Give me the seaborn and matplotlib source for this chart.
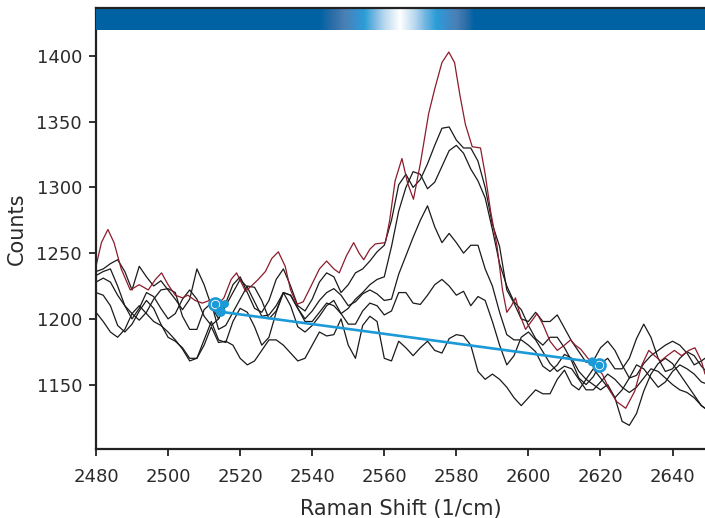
import numpy as np
import pandas as pd
import matplotlib
matplotlib.use("Agg")
import matplotlib.pyplot as plt
from matplotlib.colors import to_rgb
import seaborn as sns

# ---------------- data ----------------
red_x = [2480, 2481.5, 2483.3, 2485, 2487, 2489.5, 2492, 2494.5, 2496.5, 2498.2,
         2500, 2502, 2504, 2505.5, 2507.5, 2509.5, 2511.5, 2513.5, 2515.5, 2517.5,
         2519, 2521.5, 2523.5, 2525, 2527, 2528.8, 2530.6, 2532.5, 2534, 2535.7,
         2537.5, 2539.5, 2542, 2544, 2546, 2547.5, 2549.5, 2551.5, 2553, 2554.3,
         2556, 2557.5, 2560.3, 2561.5, 2563, 2564.9, 2566.5, 2568.1, 2570, 2572.3,
         2574, 2576, 2577.9, 2579.5, 2581, 2582.5, 2584.4, 2586.7, 2588, 2589.5,
         2591.3, 2592.8, 2594, 2595.3, 2596.4, 2597.8, 2599.2, 2600.8, 2602.4, 2604,
         2606, 2608, 2610, 2611.7, 2613, 2614.5, 2616.5, 2618.5, 2620.5, 2622.5,
         2624.5, 2627, 2629.5, 2631.5, 2633.4, 2635, 2636.7, 2638.5, 2640.5, 2642.5,
         2644.5, 2646.2, 2648, 2649]
red_y = [1240, 1258, 1268, 1258, 1238, 1222, 1226, 1222, 1230, 1235,
         1226, 1218, 1216, 1218, 1214, 1212, 1214, 1210, 1216, 1230,
         1235, 1221, 1226, 1230, 1236, 1246, 1251, 1240, 1222, 1211,
         1213, 1224, 1238, 1244, 1238, 1235, 1248, 1258, 1250, 1245,
         1253, 1257, 1258, 1275, 1305, 1322, 1303, 1291, 1318, 1356,
         1375, 1395, 1403, 1395, 1370, 1348, 1331, 1330, 1310, 1282,
         1255, 1222, 1205, 1210, 1216, 1202, 1192, 1198, 1204, 1196,
         1183, 1176, 1180, 1184, 1180, 1177, 1170, 1164, 1158, 1146,
         1137, 1132, 1145, 1165, 1176, 1172, 1168, 1172, 1176, 1172,
         1176, 1178, 1168, 1158]

# Raman shift sampling of the black spectra (every 2 1/cm)
shift = np.arange(2480, 2651, 2)

spec1 = [1236, 1238, 1242, 1245, 1236, 1222, 1240, 1232, 1225, 1229,
         1222, 1215, 1207, 1215, 1238, 1226, 1210, 1200, 1212, 1226,
         1232, 1220, 1208, 1205, 1214, 1230, 1238, 1225, 1210, 1206,
         1215, 1228, 1235, 1232, 1220, 1226, 1235, 1238, 1244, 1251,
         1256, 1275, 1302, 1310, 1300, 1306, 1318, 1332, 1345, 1346,
         1336, 1330, 1330, 1320, 1300, 1272, 1255, 1222, 1212, 1200,
         1198, 1205, 1198, 1198, 1203, 1193, 1183, 1175, 1167, 1168,
         1178, 1183, 1176, 1165, 1155, 1157, 1166, 1172, 1176, 1180,
         1183, 1180, 1174, 1165, 1168, 1172]
spec2 = [1233, 1236, 1238, 1225, 1210, 1200, 1208, 1220, 1217, 1208,
         1200, 1204, 1215, 1222, 1215, 1202, 1195, 1200, 1210, 1220,
         1230, 1224, 1213, 1202, 1203, 1210, 1220, 1218, 1208, 1198,
         1198, 1205, 1212, 1210, 1204, 1208, 1215, 1220, 1226, 1230,
         1232, 1255, 1282, 1300, 1312, 1310, 1299, 1304, 1316, 1328,
         1332, 1326, 1314, 1305, 1292, 1268, 1242, 1225, 1213, 1207,
         1195, 1185, 1180, 1186, 1186, 1178, 1168, 1155, 1150, 1156,
         1166, 1170, 1162, 1162, 1170, 1185, 1196, 1186, 1170, 1160,
         1162, 1170, 1175, 1172, 1164, 1158]
spec3 = [1228, 1231, 1228, 1218, 1210, 1204, 1199, 1205, 1215, 1222,
         1223, 1220, 1202, 1192, 1192, 1207, 1212, 1192, 1195, 1205,
         1215, 1225, 1224, 1214, 1200, 1206, 1220, 1218, 1208, 1200,
         1206, 1214, 1220, 1223, 1218, 1210, 1213, 1219, 1222, 1219,
         1214, 1215, 1234, 1248, 1262, 1275, 1286, 1270, 1258, 1265,
         1258, 1250, 1256, 1256, 1238, 1225, 1205, 1188, 1184, 1184,
         1180, 1175, 1164, 1160, 1165, 1173, 1170, 1160, 1154, 1150,
         1146, 1150, 1140, 1122, 1119, 1128, 1145, 1158, 1166, 1170,
         1166, 1158, 1150, 1142, 1134, 1130]
spec4 = [1220, 1218, 1210, 1195, 1190, 1196, 1206, 1214, 1208, 1196,
         1186, 1183, 1178, 1170, 1170, 1184, 1198, 1184, 1182, 1198,
         1208, 1205, 1194, 1180, 1186, 1205, 1220, 1210, 1194, 1190,
         1195, 1202, 1210, 1214, 1204, 1196, 1196, 1206, 1212, 1210,
         1203, 1206, 1220, 1220, 1212, 1211, 1218, 1226, 1230, 1225,
         1218, 1221, 1210, 1217, 1214, 1198, 1180, 1165, 1172, 1186,
         1190, 1184, 1175, 1166, 1160, 1164, 1162, 1154, 1146, 1146,
         1152, 1158, 1154, 1148, 1144, 1148, 1155, 1162, 1160, 1155,
         1150, 1146, 1144, 1140, 1134, 1130]
spec5 = [1205, 1198, 1190, 1186, 1192, 1204, 1210, 1204, 1198, 1195,
         1190, 1184, 1177, 1168, 1170, 1180, 1194, 1182, 1183, 1180,
         1170, 1165, 1168, 1176, 1184, 1184, 1180, 1174, 1168, 1170,
         1180, 1190, 1187, 1188, 1200, 1180, 1170, 1195, 1202, 1198,
         1170, 1168, 1183, 1178, 1172, 1178, 1183, 1176, 1174, 1185,
         1188, 1187, 1180, 1160, 1154, 1158, 1154, 1148, 1140, 1134,
         1140, 1146, 1143, 1143, 1154, 1161, 1150, 1146, 1154, 1162,
         1155, 1148, 1140, 1146, 1155, 1165, 1162, 1155, 1148, 1152,
         1160, 1165, 1162, 1158, 1152, 1150]

# baseline (blue) between the two picked points
base_x = [2514.6, 2617.7]
base_y = [1205.4, 1167.3]
pick_x = [2513.0, 2619.5]
pick_y = [1211.3, 1164.8]
handle_x = [2515.8, 2514.6, 2617.7]
handle_y = [1211.3, 1205.4, 1167.3]

# ---------------- build table ----------------
frames = []
for name, ys in [("s1", spec1), ("s2", spec2), ("s3", spec3), ("s4", spec4), ("s5", spec5)]:
    assert len(ys) == len(shift), name
    frames.append(pd.DataFrame({"shift": shift, "counts": ys, "series": name}))
black_df = pd.concat(frames, ignore_index=True)
assert len(red_x) == len(red_y)
red_df = pd.DataFrame({"shift": red_x, "counts": red_y, "series": "red"})
base_df = pd.DataFrame({"shift": base_x, "counts": base_y})

# ---------------- style ----------------
sns.set_theme(style="ticks")
plt.rcParams["font.family"] = ["DejaVu Sans"]
txt = "#2b2b2b"
blue = "#1b9ad7"

fig = plt.figure(figsize=(7.05, 5.18), dpi=100)
ax = fig.add_axes([96 / 705, (518 - 449) / 518, (705 - 96) / 705, (449 - 8) / 518])

sns.lineplot(data=black_df, x="shift", y="counts", hue="series",
             palette=["#1a1a1a"] * 5, legend=False, sort=False,
             estimator=None, lw=0.9, ax=ax)
sns.lineplot(data=red_df, x="shift", y="counts", color="#8b1c2c",
             sort=False, estimator=None, lw=0.9, ax=ax)
sns.lineplot(data=base_df, x="shift", y="counts", color=blue,
             sort=False, estimator=None, lw=1.9, ax=ax, zorder=5)
ax.scatter(pick_x, pick_y, s=75, facecolors="white", edgecolors=blue,
           linewidths=1.9, zorder=6)
ax.scatter(pick_x, pick_y, s=20, color=blue, zorder=7)
ax.scatter(handle_x, handle_y, s=[22, 40, 30], color=blue, zorder=7)

xmin, xmax = 2480, 2649
ymin, ymax = 1101, 1436.5
ax.set_xlim(xmin, xmax)
ax.set_ylim(ymin, ymax)

# decorative beam strip at the top
stops_x = [2480, 2542, 2546, 2549, 2552, 2554.5, 2557, 2560, 2564.4,
           2568.5, 2571.5, 2574.5, 2577, 2580, 2582.5, 2585, 2649]
stops_c = ["#0062a3", "#0062a3", "#2f6fa8", "#4a80b6", "#3a8fcc", "#2a9dd8",
           "#6fb4e0", "#b8d8ee", "#ffffff", "#b8d8ee", "#6fb4e0", "#2a9dd8",
           "#3a8fcc", "#4a80b6", "#2f6fa8", "#0062a3", "#0062a3"]
cols = np.array([to_rgb(c) for c in stops_c])
gx = np.linspace(xmin, xmax, 700)
img = np.stack([np.interp(gx, stops_x, cols[:, k]) for k in range(3)], axis=-1)[None, :, :]
ax.imshow(img, extent=[xmin, xmax, 1420, ymax], aspect="auto", zorder=8,
          interpolation="bilinear")

ax.set_xticks([2480, 2500, 2520, 2540, 2560, 2580, 2600, 2620, 2640])
ax.set_yticks([1150, 1200, 1250, 1300, 1350, 1400])
ax.tick_params(axis="both", direction="out", length=5, width=1.3,
               colors="#222222", labelcolor=txt, labelsize=13)
ax.tick_params(axis="x", pad=9)
ax.tick_params(axis="y", pad=5)
for s in ["left", "bottom", "top"]:
    ax.spines[s].set_color("#222222")
    ax.spines[s].set_linewidth(1.6)
ax.spines["top"].set_zorder(9)
ax.spines["right"].set_visible(False)

ax.set_xlabel("Raman Shift (1/cm)", fontsize=15, color=txt, labelpad=9)
ax.set_ylabel("Counts", fontsize=15, color=txt, labelpad=7)

fig.savefig("out.png", dpi=100)
